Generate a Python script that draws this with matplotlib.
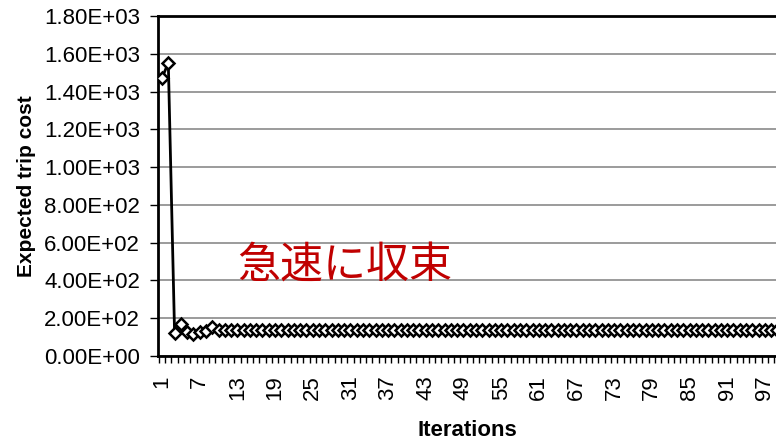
import matplotlib.pyplot as plt
from matplotlib.ticker import FuncFormatter, FixedLocator

plt.rcParams['font.family'] = ['Liberation Sans', 'DejaVu Sans']

# data
iterations = list(range(1, 101))
cost = [1472, 1552, 122, 168, 127, 118, 126, 130, 152, 138,
        136, 138, 137, 138, 138, 138, 138, 138, 138, 138,
        138, 138, 138, 138, 138, 138, 138, 138, 138, 138,
        138, 138, 138, 138, 138, 138, 138, 138, 138, 138,
        138, 138, 138, 138, 138, 138, 138, 138, 138, 138,
        138, 138, 138, 138, 138, 138, 138, 138, 138, 138,
        138, 138, 138, 138, 138, 138, 138, 138, 138, 138,
        138, 138, 138, 138, 138, 138, 138, 138, 138, 138,
        138, 138, 138, 138, 138, 138, 138, 138, 138, 138,
        138, 138, 138, 138, 138, 138, 138, 138, 138, 138]
y_ticks = [0, 200, 400, 600, 800, 1000, 1200, 1400, 1600, 1800]
x_labels = list(range(1, 101, 6))

fig = plt.figure(figsize=(7.76, 4.42), dpi=100)
ax = fig.add_axes([158 / 776, 1 - 356 / 442, 1 - 158 / 776, 340 / 442])

ax.plot(iterations, cost, color='black', lw=2, marker='D', markersize=6,
        markerfacecolor='white', markeredgecolor='black', markeredgewidth=1.8,
        clip_on=True, zorder=3)

ax.set_ylim(0, 1800)
ax.set_xlim(0.36, 98.77)
ax.set_yticks(y_ticks)
ax.yaxis.set_major_formatter(FuncFormatter(lambda v, p: f'{v:.2E}'))
ax.grid(axis='y', color='#8a8a8a', lw=1.2)
ax.set_axisbelow(True)

ax.xaxis.set_major_locator(FixedLocator(x_labels))
ax.set_xticklabels([str(v) for v in x_labels], rotation=90)
ax.xaxis.set_minor_locator(FixedLocator([v + 0.5 for v in range(0, 100)]))
ax.tick_params(axis='x', which='major', length=0, pad=14, labelsize=16)
ax.tick_params(axis='x', which='minor', length=5, width=1, direction='out')
ax.tick_params(axis='y', length=6, width=1, labelsize=16, pad=7)

for side in ['left', 'bottom', 'top']:
    ax.spines[side].set_linewidth(2)
ax.spines['right'].set_visible(False)

ax.set_xlabel('Iterations', fontsize=16, fontweight='bold', labelpad=14)
ax.set_ylabel('Expected trip cost', fontsize=15, fontweight='bold', labelpad=6)

fig.text(237 / 776, 1 - 267 / 442, '急速に収束', color='#c00000', fontsize=31,
         family=['Noto Sans CJK JP', 'DejaVu Sans'], va='center', ha='left')

fig.savefig('out.png', dpi=100)
